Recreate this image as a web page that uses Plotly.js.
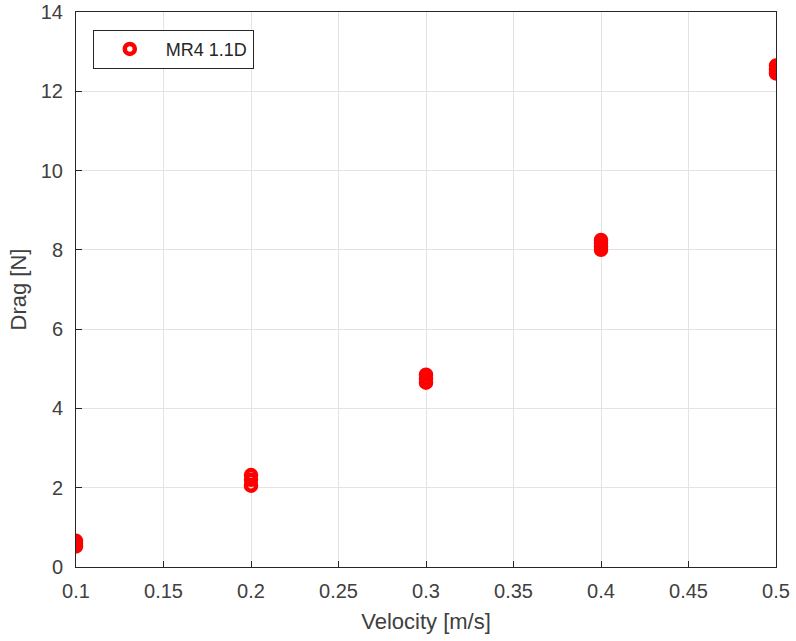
<!DOCTYPE html>
<html>
<head>
<meta charset="utf-8">
<script src="https://cdn.plot.ly/plotly-3.0.1.min.js"></script>
<style>html,body{margin:0;padding:0;background:#fff;}#chart{width:796px;height:641px;}</style>
</head>
<body>
<div id="chart"></div>
<script>
const seriesName = "MR4 1.1D";
const velocity = [0.1, 0.1, 0.1, 0.2, 0.2, 0.2, 0.3, 0.3, 0.3, 0.4, 0.4, 0.4, 0.4, 0.5, 0.5, 0.5];
const drag =     [0.52, 0.6, 0.66, 2.05, 2.2, 2.32, 4.65, 4.75, 4.85, 8.0, 8.08, 8.17, 8.25, 12.45, 12.55, 12.65];
const xTicks = [0.1, 0.15, 0.2, 0.25, 0.3, 0.35, 0.4, 0.45, 0.5];
const xTickText = ["0.1", "0.15", "0.2", "0.25", "0.3", "0.35", "0.4", "0.45", "0.5"];
const yTicks = [0, 2, 4, 6, 8, 10, 12, 14];

const font = "Liberation Sans, Arial, sans-serif";
const axisCommon = {
  showline: true, mirror: true, linecolor: "#262626", linewidth: 1,
  ticks: "inside", ticklen: 6, tickcolor: "#262626",
  showgrid: true, gridcolor: "#e3e3e3", gridwidth: 1,
  zeroline: false, tickfont: {family: font, size: 20, color: "#404040"}
};
const trace = {
  x: velocity, y: drag, type: "scatter", mode: "markers", name: seriesName,
  marker: {symbol: "circle-open", size: 10, color: "#ff0000", line: {width: 4.5, color: "#ff0000"}}
};
const layout = {
  width: 796, height: 641,
  margin: {l: 76, r: 20, t: 12, b: 74},
  paper_bgcolor: "#ffffff", plot_bgcolor: "#ffffff",
  xaxis: Object.assign({}, axisCommon, {
    range: [0.1, 0.5], tickvals: xTicks, ticktext: xTickText, ticklabelstandoff: 6,
    title: {text: "Velocity [m/s]", font: {family: font, size: 22, color: "#404040"}, standoff: 12}
  }),
  yaxis: Object.assign({}, axisCommon, {
    range: [0, 14], tickvals: yTicks, ticklabelstandoff: 8,
    title: {text: "Drag [N]", font: {family: font, size: 22, color: "#404040"}, standoff: 8}
  }),
  showlegend: true,
  legend: {
    x: 0.024, y: 0.968, xanchor: "left", yanchor: "top", itemwidth: 62,
    bgcolor: "#ffffff", bordercolor: "#262626", borderwidth: 1,
    font: {family: font, size: 18, color: "#262626"}
  }
};
Plotly.newPlot("chart", [trace], layout, {displayModeBar: false, staticPlot: true});
</script>
</body>
</html>
